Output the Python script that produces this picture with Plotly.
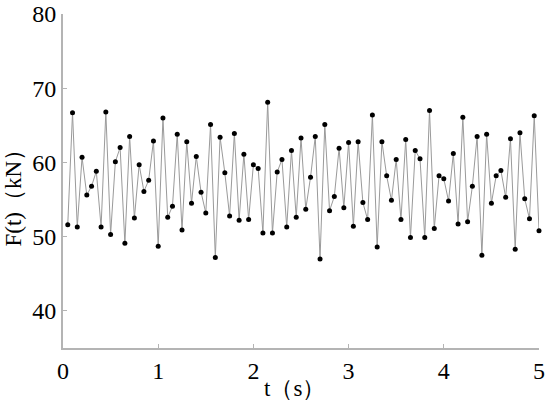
import plotly.graph_objects as go

# time axis (s) and measured force (kN)
t = [round(0.05 * i, 2) for i in range(1, 101)]
force = [
    51.6, 66.7, 51.3, 60.7, 55.6, 56.8, 58.8, 51.3, 66.8, 50.3,
    60.1, 62.0, 49.1, 63.5, 52.5, 59.7, 56.1, 57.6, 62.9, 48.7,
    66.0, 52.6, 54.1, 63.8, 50.9, 62.8, 54.5, 60.8, 56.0, 53.2,
    65.1, 47.2, 63.4, 58.6, 52.8, 63.9, 52.2, 61.1, 52.3, 59.7,
    59.2, 50.5, 68.1, 50.5, 58.7, 60.4, 51.3, 61.6, 52.6, 63.3,
    53.7, 58.0, 63.5, 47.0, 65.1, 53.5, 55.4, 61.9, 53.9, 62.7,
    51.4, 62.8, 54.6, 52.3, 66.4, 48.6, 62.8, 58.2, 54.9, 60.4,
    52.3, 63.1, 49.9, 61.6, 60.5, 49.9, 67.0, 51.1, 58.2, 57.8,
    54.8, 61.2, 51.7, 66.1, 52.0, 56.8, 63.5, 47.5, 63.8, 54.5,
    58.2, 58.9, 55.3, 63.2, 48.3, 64.0, 55.1, 52.4, 66.3, 50.8,
]

x_ticks = [0, 1, 2, 3, 4, 5]
y_ticks = [40, 50, 60, 70, 80]

axis_col = "#b4b4b4"
serif = "Liberation Serif"

fig = go.Figure()
fig.add_trace(go.Scatter(
    x=t,
    y=force,
    mode="lines+markers",
    line=dict(color="#9a9a9a", width=1),
    marker=dict(color="black", size=5),
    showlegend=False,
    cliponaxis=False,
))

axis_style = dict(
    ticks="inside",
    ticklen=4,
    tickcolor=axis_col,
    showline=True,
    linecolor=axis_col,
    linewidth=2,
    showgrid=False,
    zeroline=False,
    automargin=False,
    tickfont=dict(family=serif, size=24, color="black"),
)

fig.update_layout(
    width=550,
    height=402,
    paper_bgcolor="white",
    plot_bgcolor="white",
    margin=dict(l=63, r=11, t=14, b=54),
    font=dict(family=serif, size=24, color="black"),
    xaxis=dict(range=[0, 5], tickvals=x_ticks, **axis_style),
    yaxis=dict(range=[35, 80], tickvals=y_ticks, **axis_style),
    annotations=[
        dict(text="t（s）", xref="paper", yref="paper", x=0.487, y=-0.12,
             xanchor="center", yanchor="middle", showarrow=False,
             font=dict(family=serif, size=23)),
        dict(text="F(t)（kN）", xref="paper", yref="paper", x=-0.106, y=0.467,
             xanchor="center", yanchor="middle", showarrow=False, textangle=-90,
             font=dict(family=serif, size=23)),
    ],
)

# drop the default 8px body margin so the figure sits at the page corner
fig.write_html("out.html", config={"displayModeBar": False},
               post_script="document.body.style.margin='0';")
